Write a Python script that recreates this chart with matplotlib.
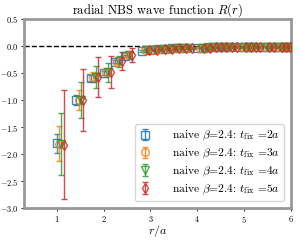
import numpy as np
import matplotlib
matplotlib.use("Agg")
import matplotlib.pyplot as plt

plt.rcParams['font.family'] = 'serif'
plt.rcParams['font.serif'] = ['cmr10', 'DejaVu Serif']
plt.rcParams['mathtext.fontset'] = 'cm'
plt.rcParams['axes.formatter.use_mathtext'] = True

# lattice distances r/a
r = [1.0, 1.414, 1.732, 2.0, 2.236, 2.449, 2.828, 3.0, 3.162, 3.317, 3.464,
     3.606, 3.742, 4.0, 4.123, 4.243, 4.359, 4.472, 4.583, 4.690, 4.899,
     5.0, 5.099, 5.196, 5.385, 5.477, 5.657, 5.745, 5.831, 5.916, 6.0]

tail = [-0.07, -0.06, -0.05, -0.045, -0.04, -0.035, -0.03, -0.03, -0.025,
        -0.025, -0.02, -0.02, -0.02, -0.02, -0.015, -0.015, -0.015, -0.015,
        -0.01, -0.01, -0.01, -0.01, -0.01, -0.01]

R_t2 = [-1.80, -1.00, -0.59, -0.50, -0.29, -0.18, -0.09] + tail
R_t3 = [-1.81, -1.00, -0.58, -0.49, -0.29, -0.17, -0.08] + tail
R_t4 = [-1.81, -1.00, -0.57, -0.49, -0.28, -0.17, -0.08] + tail
R_t5 = [-1.83, -1.00, -0.57, -0.48, -0.28, -0.16, -0.08] + tail

err_t2 = [0.18, 0.10, 0.05, 0.04, 0.03, 0.02, 0.02] + [0.01] * 24
err_t3 = [0.32, 0.18, 0.09, 0.08, 0.05, 0.04, 0.02] + [0.01] * 24
err_t4 = [0.57, 0.33, 0.20, 0.17, 0.10, 0.07, 0.03] + [0.015] * 24
err_t5 = [1.01, 0.58, 0.37, 0.30, 0.17, 0.13, 0.05] + [0.02] * 24

series = [
    (R_t2, err_t2, 's', '#1f77b4', 0.00, r'naive $\beta$=2.4: $t_{\rm fix}$ =2$a$'),
    (R_t3, err_t3, 'o', '#ff7f0e', 0.05, r'naive $\beta$=2.4: $t_{\rm fix}$ =3$a$'),
    (R_t4, err_t4, 'v', '#2ca02c', 0.10, r'naive $\beta$=2.4: $t_{\rm fix}$ =4$a$'),
    (R_t5, err_t5, 'd', '#d62728', 0.15, r'naive $\beta$=2.4: $t_{\rm fix}$ =5$a$'),
]

fig = plt.figure(figsize=(3.0, 2.4), dpi=100)
ax = fig.add_axes([0.08, 0.133, 0.89, 0.788])

ax.axhline(0, color='black', ls='--', lw=1.0, zorder=1)

for y, e, m, c, dx, lab in series:
    ax.errorbar(np.array(r) + dx, y, yerr=e, fmt=m, color=c, mfc='none',
                ms=5.5, mew=1.0, elinewidth=1.0, capsize=2.5, capthick=1.0,
                alpha=0.85, label=lab, zorder=3)

ax.set_xlim(0.3, 6.0)
ax.set_ylim(-3.0, 0.5)
ax.set_xticks([1, 2, 3, 4, 5, 6])
ax.set_yticks(np.arange(-3.0, 0.51, 0.5))
ax.tick_params(labelsize=6, length=2.5, width=0.6, pad=1.5)
for s in ax.spines.values():
    s.set_color('#999999')
    s.set_linewidth(2.0)

ax.set_title(r'radial NBS wave function $R(r)$', fontsize=9, pad=3)
ax.set_xlabel(r'$r/a$', fontsize=8.5, labelpad=-1)

ax.legend(loc='lower right', fontsize=8.3, handlelength=1.0,
          borderpad=0.4, labelspacing=0.3, handletextpad=1.8,
          borderaxespad=0.6, framealpha=0.8, edgecolor='#cccccc')

fig.savefig('out.png', dpi=100)
